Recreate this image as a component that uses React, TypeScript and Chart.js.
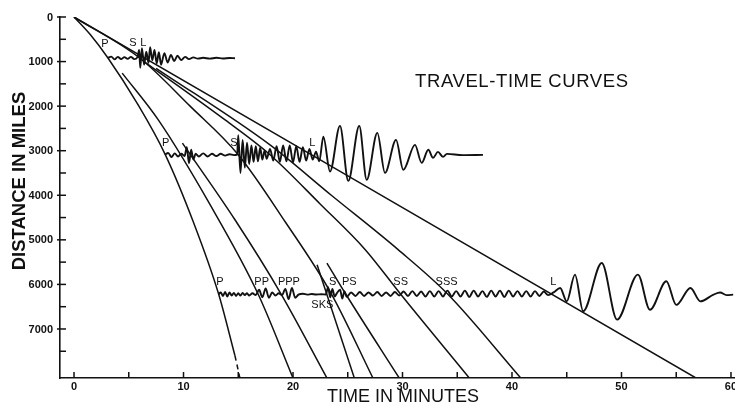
import React, { useEffect, useRef } from "react";
import { Chart, registerables } from "chart.js";

Chart.register(...registerables);

// ---------- ticks ----------
const yTickValues = [0, 500, 1000, 1500, 2000, 2500, 3000, 3500, 4000, 4500, 5000, 5500, 6000, 6500, 7000, 7500];
const yMajorTicks = [0, 1000, 2000, 3000, 4000, 5000, 6000, 7000];
const xTickValues = [0, 5, 10, 15, 20, 25, 30, 35, 40, 45, 50, 55, 60];
const xMajorTicks = [0, 10, 20, 30, 40, 50, 60];

// ---------- travel-time curves: [minutes, miles] ----------
const curveP = [[0, 0], [1.5, 400], [3.1, 920], [5.8, 1950], [8.3, 3070], [10.9, 4600], [13.2, 6210], [14.7, 7600]];
const curvePDashed = [[14.7, 7600], [15.15, 8100]];
const curvePP = [[4.4, 1260], [7.7, 2310], [12.4, 4200], [16.8, 6210], [20.0, 8100]];
const curvePPP = [[9.9, 2830], [14.7, 4550], [18.9, 6210], [23.1, 8100]];
const curveS = [[0, 0], [6.0, 920], [10.6, 2000], [15.0, 3090], [19.3, 4600], [23.5, 6210], [27.3, 8100]];
const curveSKS = [[22.2, 5560], [25.6, 8100]];
const curvePS = [[23.1, 5520], [24.8, 6210], [29.7, 8100]];
const curveSS = [[6.4, 1000], [13.8, 2310], [17.9, 3090], [22.5, 4200], [26.6, 5220], [29.8, 6210], [36.1, 8100]];
const curveSSS = [[7.5, 1150], [17.9, 2870], [23.5, 4000], [29.6, 5220], [34.1, 6210], [40.8, 8100]];
const curveL = [[0, 0], [56.8, 8100]];

// ---------- seismogram traces: [minutes, miles] ----------
const trace1000 = [
  [3.1, 920], [3.4, 890], [3.7, 950], [4.0, 895], [4.3, 945], [4.6, 900], [4.9, 940], [5.2, 895], [5.5, 945], [5.8, 900],
  [5.95, 740], [6.05, 1140], [6.2, 700], [6.4, 1070], [6.6, 780], [6.8, 1030], [6.95, 680], [7.15, 970], [7.35, 740],
  [7.55, 1040], [7.75, 790], [7.95, 1070], [8.25, 810], [8.55, 1020], [8.85, 850], [9.15, 990], [9.45, 870], [9.8, 965],
  [10.15, 895], [10.5, 945], [10.9, 905], [11.3, 935], [11.8, 915], [12.4, 935], [13.0, 915], [13.6, 930], [14.2, 920], [14.7, 925],
];
const trace3000 = [
  [8.3, 3094], [8.6, 3050], [8.9, 3140], [9.2, 3060], [9.5, 3130], [9.8, 3070], [10.1, 3120], [10.3, 2920], [10.5, 3280],
  [10.7, 2980], [10.9, 3200], [11.1, 3070], [11.4, 3130], [11.8, 3060], [12.2, 3130], [12.6, 3070], [13.0, 3120], [13.4, 3070],
  [13.8, 3110], [14.2, 3080], [14.6, 3100], [14.9, 3090],
  [15.0, 2650], [15.2, 3500], [15.4, 2760], [15.6, 3380], [15.8, 2820], [16.0, 3300], [16.2, 2880], [16.4, 3250], [16.6, 2900],
  [16.8, 3240], [17.0, 2930], [17.2, 3200], [17.4, 3000], [17.6, 3180],
  [17.9, 2960], [18.2, 3220], [18.5, 2900], [18.8, 3250], [19.1, 2880], [19.4, 3240], [19.7, 2880], [20.0, 3260], [20.3, 2900],
  [20.6, 3250], [20.9, 2920], [21.2, 3220], [21.5, 2960], [21.8, 3200], [22.1, 3020], [22.4, 3240],
  [22.77, 2684], [23.38, 3468], [24.29, 2444], [25.05, 3677], [26.05, 2444], [26.73, 3654], [27.7, 2601], [28.4, 3498],
  [29.41, 2758], [30.07, 3430], [31.14, 2870], [31.75, 3273], [32.36, 2980], [32.79, 3161], [33.24, 3027], [33.7, 3139],
  [34.06, 3072], [35.5, 3100], [37.35, 3094],
];
const trace6000 = [
  [13.2, 6220], [13.4, 6180], [13.6, 6260], [13.8, 6170], [14.0, 6270], [14.2, 6180], [14.4, 6250], [14.6, 6190], [14.8, 6260],
  [15.0, 6200], [15.2, 6250], [15.4, 6190], [15.6, 6240], [15.8, 6200], [16.0, 6250], [16.3, 6200], [16.6, 6240],
  [16.9, 6120], [17.2, 6290], [17.5, 6090], [17.8, 6300], [18.1, 6180], [18.4, 6250], [18.7, 6200], [19.0, 6240],
  [19.3, 6100], [19.6, 6330], [19.9, 6080], [20.2, 6300], [20.5, 6230],
  [20.9, 6210], [21.3, 6230], [21.7, 6215], [22.1, 6225], [22.6, 6220], [23.0, 6225],
  [23.2, 6060], [23.4, 6290], [23.6, 6100], [23.8, 6270], [24.0, 6200],
  [24.3, 6120], [24.5, 6320], [24.7, 6150], [24.9, 6280],
  [25.3, 6180], [25.7, 6260], [26.1, 6170], [26.5, 6260], [26.9, 6180], [27.3, 6250], [27.7, 6170], [28.1, 6260], [28.5, 6180],
  [28.9, 6260], [29.3, 6170], [29.7, 6250], [30.1, 6160], [30.5, 6260], [30.9, 6150], [31.3, 6260], [31.7, 6160], [32.1, 6270],
  [32.5, 6150], [32.9, 6270], [33.3, 6150], [33.7, 6270], [34.1, 6140], [34.5, 6270], [34.9, 6150], [35.3, 6270], [35.7, 6140],
  [36.1, 6280], [36.5, 6140], [36.9, 6270], [37.3, 6150], [37.7, 6280], [38.1, 6140], [38.5, 6270], [38.9, 6140], [39.3, 6280],
  [39.7, 6140], [40.1, 6270], [40.5, 6150], [40.9, 6270], [41.3, 6150], [41.7, 6270], [42.1, 6150], [42.5, 6260], [42.9, 6160],
  [43.3, 6240],
  [43.8, 6180], [44.4, 6080], [45.0, 6380], [45.75, 5780], [46.5, 6600], [48.2, 5520], [49.6, 6790], [51.5, 5780], [52.6, 6570],
  [54.1, 5930], [55.0, 6460], [56.3, 6080], [57.2, 6380], [58.4, 6230], [59.0, 6180], [59.6, 6240], [60.2, 6230],
];

// ---------- text ----------
const chartTitle = "TRAVEL-TIME CURVES";
const xTitle = "TIME IN MINUTES";
const yTitle = "DISTANCE IN MILES";
const phaseLabels = [
  { text: "P", t: 2.83, d: 610 }, { text: "S", t: 5.39, d: 580 }, { text: "L", t: 6.33, d: 580 },
  { text: "P", t: 8.37, d: 2832 }, { text: "S", t: 14.6, d: 2832 }, { text: "L", t: 21.76, d: 2832 },
  { text: "P", t: 13.33, d: 5935 }, { text: "PP", t: 17.14, d: 5935 }, { text: "PPP", t: 19.63, d: 5935 },
  { text: "S", t: 23.62, d: 5935 }, { text: "PS", t: 25.14, d: 5935 }, { text: "SS", t: 29.83, d: 5935 },
  { text: "SSS", t: 34.03, d: 5935 }, { text: "SKS", t: 22.68, d: 6457 }, { text: "L", t: 43.77, d: 5935 },
];

const FONT = "'Liberation Sans', Arial, sans-serif";

const toXY = (pts: number[][]) => pts.map(([x, y]) => ({ x, y }));

const line = (pts: number[][], width: number, extra: any = {}) => ({
  data: toXY(pts),
  borderColor: "#111",
  borderWidth: width,
  pointRadius: 0,
  fill: false,
  cubicInterpolationMode: "monotone",
  ...extra,
});

const decorPlugin = {
  id: "decor",
  afterDraw(chart: any) {
    const { ctx, chartArea, scales } = chart;
    const x = scales.x;
    const y = scales.y;
    ctx.save();
    ctx.strokeStyle = "#111";
    ctx.fillStyle = "#111";
    ctx.lineWidth = 1.5;
    // inward tick marks + y tick labels
    ctx.font = `bold 11px ${FONT}`;
    ctx.textAlign = "right";
    ctx.textBaseline = "middle";
    y.ticks.forEach((tk: any) => {
      const v = Math.round(tk.value);
      const py = y.getPixelForValue(v);
      const major = yMajorTicks.includes(v);
      ctx.beginPath();
      ctx.moveTo(chartArea.left - (major ? 3 : 0), py);
      ctx.lineTo(chartArea.left + 6, py);
      ctx.stroke();
      if (major) ctx.fillText(String(v), chartArea.left - 7, py + 0.5);
    });
    x.ticks.forEach((tk: any) => {
      const px = x.getPixelForValue(tk.value);
      ctx.beginPath();
      ctx.moveTo(px, chartArea.bottom);
      ctx.lineTo(px, chartArea.bottom - 6);
      ctx.stroke();
    });
    // phase labels
    ctx.textAlign = "center";
    ctx.textBaseline = "middle";
    ctx.font = `11px ${FONT}`;
    phaseLabels.forEach((l) => {
      ctx.fillText(l.text, x.getPixelForValue(l.t), y.getPixelForValue(l.d));
    });
    // chart title
    ctx.font = `18.5px ${FONT}`;
    (ctx as any).letterSpacing = "0.6px";
    ctx.fillText(chartTitle, x.getPixelForValue(40.9), y.getPixelForValue(1457));
    (ctx as any).letterSpacing = "0px";
    // x title
    ctx.font = `18px ${FONT}`;
    ctx.fillText(xTitle, x.getPixelForValue(30.05), chartArea.bottom + 19);
    // y title
    ctx.save();
    ctx.translate(20, y.getPixelForValue(3680));
    ctx.rotate(-Math.PI / 2);
    ctx.font = `bold 18.5px ${FONT}`;
    ctx.fillText(yTitle, 0, 0);
    ctx.restore();
    ctx.restore();
  },
};

export default function App() {
  const ref = useRef<HTMLCanvasElement | null>(null);
  useEffect(() => {
    if (!ref.current) return;
    const curveW = 1.5;
    const traceW = 1.9;
    const chart = new Chart(ref.current, {
      type: "line",
      data: {
        datasets: [
          line(curveP, curveW),
          line(curvePDashed, curveW, { borderDash: [5, 4] }),
          line(curvePP, curveW),
          line(curvePPP, curveW),
          line(curveS, curveW),
          line(curveSKS, curveW),
          line(curvePS, curveW),
          line(curveSS, curveW),
          line(curveSSS, curveW),
          line(curveL, curveW),
          line(trace1000, traceW),
          line(trace3000, traceW),
          line(trace6000, traceW),
        ] as any,
      },
      options: {
        animation: false,
        responsive: true,
        maintainAspectRatio: false,
        events: [],
        layout: { padding: { left: 0, top: 17, right: 10, bottom: 0 } },
        plugins: { legend: { display: false }, tooltip: { enabled: false } },
        scales: {
          x: {
            type: "linear",
            min: -1.28,
            max: 60.55,
            afterFit: (s: any) => {
              s.height = 28;
            },
            afterBuildTicks: (s: any) => {
              s.ticks = xTickValues.map((v) => ({ value: v }));
            },
            ticks: {
              autoSkip: false,
              maxRotation: 0,
              padding: 2,
              color: "#111",
              font: { family: FONT, size: 11, weight: "bold" },
              callback: (v: any) => (xMajorTicks.includes(Number(v)) ? String(v) : ""),
            },
            grid: { display: false, drawTicks: false },
            border: { display: true, color: "#111", width: 1.6 },
          },
          y: {
            type: "linear",
            reverse: true,
            min: 0,
            max: 8100,
            afterFit: (s: any) => {
              s.width = 60;
            },
            afterBuildTicks: (s: any) => {
              s.ticks = yTickValues.map((v) => ({ value: v }));
            },
            ticks: {
              autoSkip: false,
              display: false,
            },
            grid: { display: false, drawTicks: false },
            border: { display: true, color: "#111", width: 1.6 },
          },
        },
      } as any,
      plugins: [decorPlugin],
    });
    return () => chart.destroy();
  }, []);

  return (
    <div
      style={{
        position: "fixed",
        left: 0,
        top: 0,
        width: 735,
        height: 406,
        overflow: "hidden",
        background: "#fff",
      }}
    >
      <div style={{ position: "relative", width: 747, height: 406 }}>
        <canvas ref={ref} />
      </div>
    </div>
  );
}
